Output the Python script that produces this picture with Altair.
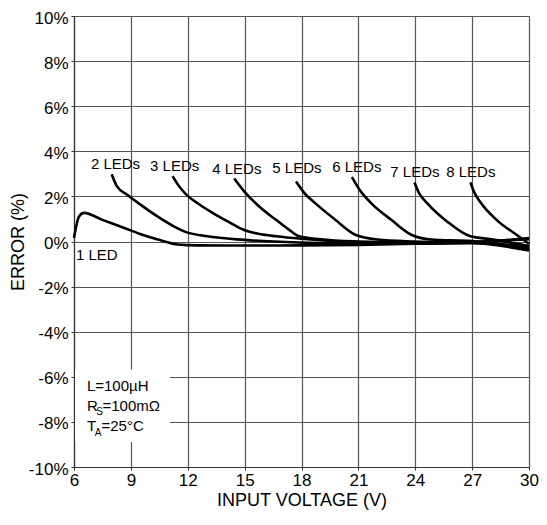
import altair as alt
import pandas as pd

# ---- data ----
v1 = [6.0, 6.26, 6.52, 7.5, 8.69, 9.6, 10.42, 11.47, 12.5, 15, 18, 21, 24, 27, 30]
e1 = [0.16, 1.1, 1.27, 0.96, 0.59, 0.3, 0.09, -0.13, -0.17, -0.18, -0.17, -0.15, -0.1, -0.02, 0.1]
v2 = [7.99, 8.25, 8.86, 9.56, 10.42, 11.29, 11.81, 13.03, 15, 18, 21, 24, 27, 30]
e2 = [2.98, 2.47, 2.04, 1.6, 1.1, 0.66, 0.45, 0.23, 0.07, -0.05, -0.1, -0.1, -0.05, 0.15]
v3 = [11.2, 11.5, 11.9, 12.6, 13.37, 14.2, 14.94, 15.8, 16.67, 18, 21, 24, 27, 30]
e3 = [2.9, 2.5, 2.1, 1.65, 1.24, 0.85, 0.52, 0.33, 0.23, 0.12, -0.03, -0.08, -0.08, -0.2]
v4 = [14.45, 14.94, 15.8, 16.67, 17.3, 17.87, 19, 21, 24, 27, 30]
e4 = [2.79, 2.26, 1.53, 0.95, 0.55, 0.23, 0.1, 0.0, -0.05, -0.05, -0.3]
v5 = [17.71, 18.2, 18.75, 19.8, 20.84, 22.0, 24, 27, 30]
e5 = [2.66, 2.1, 1.68, 0.95, 0.3, 0.09, 0.0, -0.05, -0.4]
v6 = [20.66, 21.1, 21.7, 22.75, 23.79, 24.83, 27, 30]
e6 = [2.86, 2.25, 1.68, 0.95, 0.3, 0.09, 0.02, -0.35]
v7 = [23.96, 24.2, 24.65, 25.69, 26.91, 28, 30]
e7 = [2.62, 2.15, 1.68, 0.88, 0.23, 0.1, -0.2]
v8 = [26.91, 27.1, 27.43, 28.3, 29.34, 30]
e8 = [2.62, 2.2, 1.75, 0.95, 0.3, -0.1]

series_names = ["1 LED", "2 LEDs", "3 LEDs", "4 LEDs", "5 LEDs", "6 LEDs", "7 LEDs", "8 LEDs"]
series_v = [v1, v2, v3, v4, v5, v6, v7, v8]
series_e = [e1, e2, e3, e4, e5, e6, e7, e8]

# label anchor positions (V, %)
label_v = [7.2, 8.19, 11.31, 14.59, 17.76, 20.92, 23.98, 26.93]
label_e = [-0.61, 3.43, 3.34, 3.2, 3.25, 3.3, 3.08, 3.08]

x_ticks = [6, 9, 12, 15, 18, 21, 24, 27, 30]
y_ticks = [-10, -8, -6, -4, -2, 0, 2, 4, 6, 8, 10]

# annotation text pieces
note_text = ["L=100µH", "R", "S", "=100mΩ", "T", "A", "=25°C"]
note_v = [6.68, 6.68, 7.17, 7.5, 6.68, 7.1, 7.45]
note_e = [-6.64, -7.51, -7.68, -7.51, -8.42, -8.63, -8.42]
note_size = [15, 15, 10, 15, 15, 10, 15]
box_v = [6.06, 11.05]
box_e = [-5.68, -8.89]

# ---- build tables ----
rows = []
for name, vs, es in zip(series_names, series_v, series_e):
    for i, (v, e) in enumerate(zip(vs, es)):
        rows.append({"series": name, "V": v, "err": e, "order": i})
lines_df = pd.DataFrame(rows)
labels_df = pd.DataFrame({"text": series_names, "V": label_v, "err": label_e})
notes_df = pd.DataFrame({"text": note_text, "V": note_v, "err": note_e, "fs": note_size})
box_df = pd.DataFrame({"x": [box_v[0]], "x2": [box_v[1]], "y": [box_e[0]], "y2": [box_e[1]]})

FONT = "Liberation Sans"

xscale = alt.Scale(domain=[6, 30], nice=False, zero=False)
yscale = alt.Scale(domain=[-10, 10], nice=False, zero=False)

xaxis = alt.Axis(values=x_ticks, title="INPUT VOLTAGE (V)", labelFontSize=17, titleFontSize=18,
                 labelFont=FONT, titleFont=FONT, titleFontWeight="normal", labelColor="black",
                 titleColor="black", grid=True, gridColor="#555555", gridWidth=1.2,
                 domainColor="#333333", domainWidth=1.2, tickColor="#333333", tickSize=3,
                 labelPadding=2, titlePadding=3, labelFlush=False)
yaxis = alt.Axis(values=y_ticks, title="ERROR (%)", labelFontSize=17, titleFontSize=18,
                 labelFont=FONT, titleFont=FONT, titleFontWeight="normal", labelColor="black",
                 titleColor="black", grid=True, gridColor="#555555", gridWidth=1.2,
                 domainColor="#333333", domainWidth=1.2, tickColor="#333333", tickSize=3,
                 labelPadding=3, titlePadding=1, labelOffset=2,
                 labelExpr="datum.value + '%'")

lines = alt.Chart(lines_df).mark_line(color="black", strokeWidth=2.6, interpolate="monotone").encode(
    x=alt.X("V:Q", scale=xscale, axis=xaxis),
    y=alt.Y("err:Q", scale=yscale, axis=yaxis),
    detail="series:N",
    order="order:Q",
)

box = alt.Chart(box_df).mark_rect(color="white").encode(
    x=alt.X("x:Q", scale=xscale), x2="x2:Q",
    y=alt.Y("y:Q", scale=yscale), y2="y2:Q",
)

labels = alt.Chart(labels_df).mark_text(font=FONT, fontSize=15, color="black",
                                        align="center", baseline="middle").encode(
    x=alt.X("V:Q", scale=xscale), y=alt.Y("err:Q", scale=yscale), text="text:N"
)

notes = alt.Chart(notes_df).mark_text(font=FONT, color="black", align="left",
                                      baseline="alphabetic").encode(
    x=alt.X("V:Q", scale=xscale), y=alt.Y("err:Q", scale=yscale), text="text:N",
    size=alt.Size("fs:Q", scale=None, legend=None),
)

chart = alt.layer(box, lines, labels, notes).properties(
    width=455, height=451,
    autosize=alt.AutoSizeParams(type="none"),
    padding={"left": 66, "top": 8, "right": 10, "bottom": 47},
).configure_view(stroke=None).configure(background="white")

chart.save("out.html", embed_options={"renderer": "svg", "actions": False})
